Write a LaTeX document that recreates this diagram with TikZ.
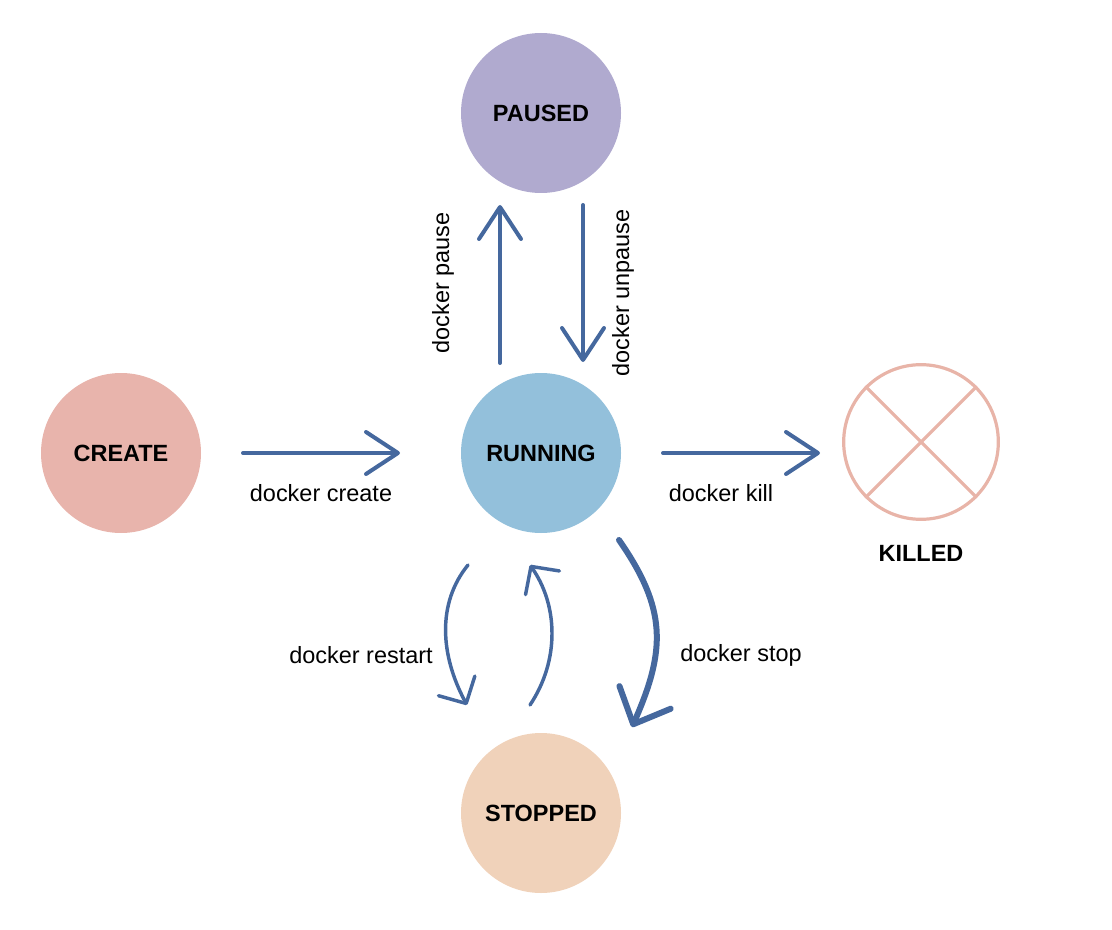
\documentclass[tikz,border=0pt]{standalone}
\usepackage{fontspec}
\setmainfont{Liberation Sans}
\usetikzlibrary{arrows.meta}
\definecolor{arrowblue}{HTML}{45689E}
\definecolor{createc}{HTML}{E8B4AC}
\definecolor{pausedc}{HTML}{B0AACF}
\definecolor{runningc}{HTML}{93C0DB}
\definecolor{stoppedc}{HTML}{F0D2BA}
\definecolor{killedc}{HTML}{E8B4A8}
\tikzset{
  state/.style={circle, minimum size=120pt, inner sep=0pt, font=\fontsize{17.6}{20}\selectfont\bfseries},
  lbl/.style={font=\fontsize{17.6}{20}\selectfont, inner sep=0pt},
  straightarr/.style={draw=arrowblue, line width=3pt, line cap=round, -{Straight Barb[length=24pt, width=31.5pt, line cap=round, line join=round]}},
  curvearr/.style={draw=arrowblue, line width=2.6pt, line cap=round, -{Straight Barb[length=15pt, width=31pt, line cap=round, line join=round]}},
  stoparr/.style={draw=arrowblue, line width=4.5pt, line cap=round, -{Straight Barb[length=22pt, width=42pt, line cap=round, line join=round]}}
}
\begin{document}
\begin{tikzpicture}[x=0.75pt, y=-0.75pt]
\useasboundingbox (0,0) rectangle (1112,930);
% states
\node[state, fill=createc] (create) at (121,453) {CREATE};
\node[state, fill=pausedc] (paused) at (541,113) {PAUSED};
\node[state, fill=runningc] (running) at (541,453) {RUNNING};
\node[state, fill=stoppedc] (stopped) at (541,813) {STOPPED};
\node[circle, draw=killedc, line width=2.4pt, minimum size=116pt, inner sep=0pt] (killed) at (921,442) {};
\draw[killedc, line width=2.4pt] (killed.45) -- (killed.225);
\draw[killedc, line width=2.4pt] (killed.135) -- (killed.315);
\node[lbl, font=\fontsize{17.6}{20}\selectfont\bfseries] (killedlbl) at (921,553) {KILLED};
% connector end points
\coordinate (c1) at (243,453); \coordinate (c2) at (400,453);
\coordinate (k1) at (663,453); \coordinate (k2) at (820,453);
\coordinate (p1) at (500,363); \coordinate (p2) at (500,205);
\coordinate (u1) at (583,205); \coordinate (u2) at (583,362);
\coordinate (r1) at (468,565); \coordinate (r2) at (467,705);
\coordinate (b1) at (530,705); \coordinate (b2) at (530,565);
\coordinate (s1) at (619,540); \coordinate (s2) at (632,727);
% straight arrows
\draw[straightarr] (c1) -- (c2);
\draw[straightarr] (k1) -- (k2);
\draw[straightarr] (p1) -- (p2);
\draw[straightarr] (u1) -- (u2);
% curved arrows
\draw[curvearr] (r1) .. controls (437,603) and (440,655) .. (r2);
\draw[curvearr] (b1) .. controls (560,660) and (558,605) .. (b2);
\draw[stoparr] (s1) .. controls (667,609) and (666,650) .. (s2);
% labels
\node[lbl] (lcreate) at (321,493) {docker create};
\node[lbl] (lkill) at (721,493) {docker kill};
\node[lbl, rotate=90] (lpause) at (443,283) {docker pause};
\node[lbl, rotate=90] (lunpause) at (623,293) {docker unpause};
\node[lbl] (lrestart) at (361,655) {docker restart};
\node[lbl] (lstop) at (741,655) {docker stop};
\end{tikzpicture}
\end{document}
